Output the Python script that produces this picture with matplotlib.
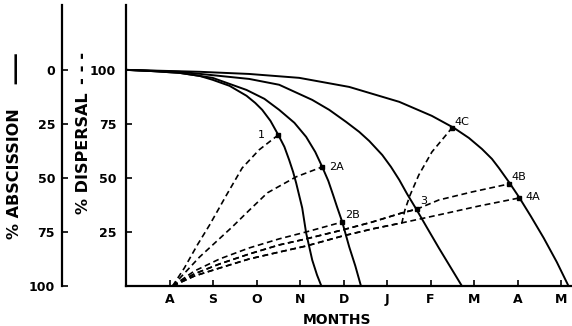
import matplotlib
matplotlib.use("Agg")
import matplotlib.pyplot as plt

# month index: 0 = A(ugust); axis starts one month earlier
month_labels = ['A', 'S', 'O', 'N', 'D', 'J', 'F', 'M', 'A', 'M']

# abscission curves (% abscission vs month index)
abs1_m = [-1.01, -0.46, 0.23, 0.69, 0.99, 1.38, 1.77, 1.97, 2.13, 2.32, 2.50,
          2.64, 2.75, 2.84, 2.91, 3.05, 3.14, 3.28, 3.39, 3.49]
abs1_v = [0, 0.5, 1.4, 2.8, 4.6, 7.4, 12.0, 15.3, 18.5, 23.6, 30.1,
          35.6, 41.7, 47.2, 52.3, 63.9, 75.5, 88.0, 94.9, 100]

abs2_m = [-1.01, -0.46, 0.23, 0.99, 1.77, 2.18, 2.52, 2.87, 3.14, 3.35, 3.51,
          3.65, 3.76, 3.85, 3.97, 4.13, 4.27, 4.40]
abs2_v = [0, 0.5, 1.4, 3.7, 9.3, 13.4, 18.5, 24.5, 31.0, 38.0, 44.9,
          51.4, 57.9, 63.4, 70.4, 81.9, 90.7, 100]

abs3_m = [-1.01, 0.23, 1.83, 2.52, 3.28, 3.67, 4.06, 4.36, 4.59, 4.89, 5.09,
          5.28, 5.46, 5.67, 5.92, 6.19, 6.47, 6.72]
abs3_v = [0, 0.9, 4.2, 6.9, 13.9, 18.5, 24.1, 28.7, 32.9, 39.4, 44.9,
          50.9, 57.4, 64.4, 73.1, 82.4, 91.7, 100]

abs4_m = [-1.01, 0.69, 1.83, 2.98, 4.13, 5.28, 6.03, 6.54, 6.88, 7.18, 7.41,
          7.57, 7.80, 8.03, 8.30, 8.60, 8.90, 9.17]
abs4_v = [0, 0.9, 1.9, 3.7, 7.9, 14.8, 21.3, 26.9, 31.5, 36.6, 41.2,
          45.4, 51.9, 58.8, 67.6, 77.8, 88.9, 100]

# dispersal curves (% dispersal vs month index)
d1_m = [0.07, 0.34, 0.64, 0.92, 1.31, 1.67, 2.06, 2.50]
d1_v = [0, 8.3, 19.0, 28.2, 42.1, 54.6, 63.0, 69.9]

d2a_m = [0.07, 0.69, 1.44, 1.83, 2.25, 2.91, 3.51]
d2a_v = [0, 13.4, 27.3, 35.0, 43.1, 50.5, 55.1]

d2b_m = [0.07, 0.57, 1.15, 1.83, 2.52, 3.14, 3.97]
d2b_v = [0, 6.9, 12.5, 17.6, 21.8, 25.0, 29.6]

d3_m = [0.07, 0.57, 1.15, 1.83, 2.52, 3.14, 3.97, 4.66, 5.34, 5.69]
d3_v = [0, 5.6, 10.2, 14.8, 19.0, 21.8, 25.9, 29.6, 33.8, 35.6]

d4b_m = d3_m + [6.19, 6.95, 7.80]
d4b_v = d3_v + [39.8, 43.5, 47.2]

d4a_m = [0.07, 0.57, 1.15, 1.83, 2.52, 3.14, 3.97, 4.66, 5.34, 6.19, 7.11, 8.03]
d4a_v = [0, 4.6, 8.3, 12.5, 15.7, 18.5, 23.1, 26.4, 29.2, 32.9, 37.0, 40.7]

d4c_m = d4a_m[:9] + [5.41, 5.53, 5.73, 6.03, 6.49]
d4c_v = d4a_v[:9] + [35.2, 42.1, 51.4, 62.0, 73.1]

point_labels = ['1', '2A', '2B', '3', '4C', '4B', '4A']

fig = plt.figure(figsize=(5.72, 3.26), dpi=100)
pos = [126 / 572, 40 / 326, 446 / 572, 281 / 326]
ax = fig.add_axes(pos)
ax2 = fig.add_axes(pos)
ax2.patch.set_visible(False)

# abscission on its own (inverted) scale
for m, v in [(abs1_m, abs1_v), (abs2_m, abs2_v), (abs3_m, abs3_v), (abs4_m, abs4_v)]:
    ax2.plot(m, v, color='black', lw=1.4, solid_joinstyle='round')

dashed = [(d1_m, d1_v), (d2a_m, d2a_v), (d2b_m, d2b_v), (d3_m, d3_v),
          (d4c_m, d4c_v), (d4b_m, d4b_v), (d4a_m, d4a_v)]
for m, v in dashed:
    ax.plot(m, v, color='black', lw=1.2, ls=(0, (3.5, 2.2)))

offsets = [(-10, 0, 'right'), (5, 0, 'left'), (2, 5, 'left'), (2, 6, 'left'),
           (2, 4, 'left'), (2, 5, 'left'), (5, 1, 'left')]
for (m, v), lab, (dx, dy, ha) in zip(dashed, point_labels, offsets):
    ax.plot(m[-1], v[-1], 's', color='black', ms=3.5)
    ax.annotate(lab, xy=(m[-1], v[-1]), xytext=(dx, dy), textcoords='offset points',
                ha=ha, va='center', fontsize=8)

ax.set_xlim(-1, 9.25)
ax.set_ylim(0, 130)
ax2.set_xlim(-1, 9.25)
ax2.set_ylim(100, -30)

for a in (ax, ax2):
    a.spines['top'].set_visible(False)
    a.spines['right'].set_visible(False)
    a.spines['left'].set_linewidth(1.6)
    a.spines['bottom'].set_linewidth(1.6)

ax2.spines['bottom'].set_visible(False)
ax2.spines['left'].set_position(('axes', -64 / 446))
ax2.set_xticks([])
ax2.set_yticks([0, 25, 50, 75, 100])
ax2.tick_params(axis='y', direction='in', length=4, width=1.2, pad=5,
                labelsize=9)

ax.set_xticks(range(len(month_labels)))
ax.set_xticklabels(month_labels)
ax.set_yticks([25, 50, 75, 100])
ax.tick_params(axis='both', direction='in', length=4, width=1.2, labelsize=9)
ax.tick_params(axis='y', pad=7)
ax.tick_params(axis='x', pad=5)
for t in ax.get_xticklabels() + ax.get_yticklabels() + ax2.get_yticklabels():
    t.set_fontweight('bold')

ax.set_xlabel('MONTHS', fontsize=10, fontweight='bold')
ax.xaxis.set_label_coords((337 - 126) / 446, -27 / 281)

fig.text(15 / 572, 1 - 174 / 326, '% ABSCISSION', rotation=90,
         ha='center', va='center', fontsize=11.5, fontweight='bold')
fig.text(15 / 572, 1 - 67 / 326, '—', rotation=90,
         ha='center', va='center', fontsize=24)
fig.text(83 / 572, 1 - 153 / 326, '% DISPERSAL', rotation=90,
         ha='center', va='center', fontsize=11.5, fontweight='bold')
fig.text(83 / 572, 1 - 68 / 326, '- - -', rotation=90,
         ha='center', va='center', fontsize=12, fontweight='bold')

fig.savefig('out.png', dpi=100)
